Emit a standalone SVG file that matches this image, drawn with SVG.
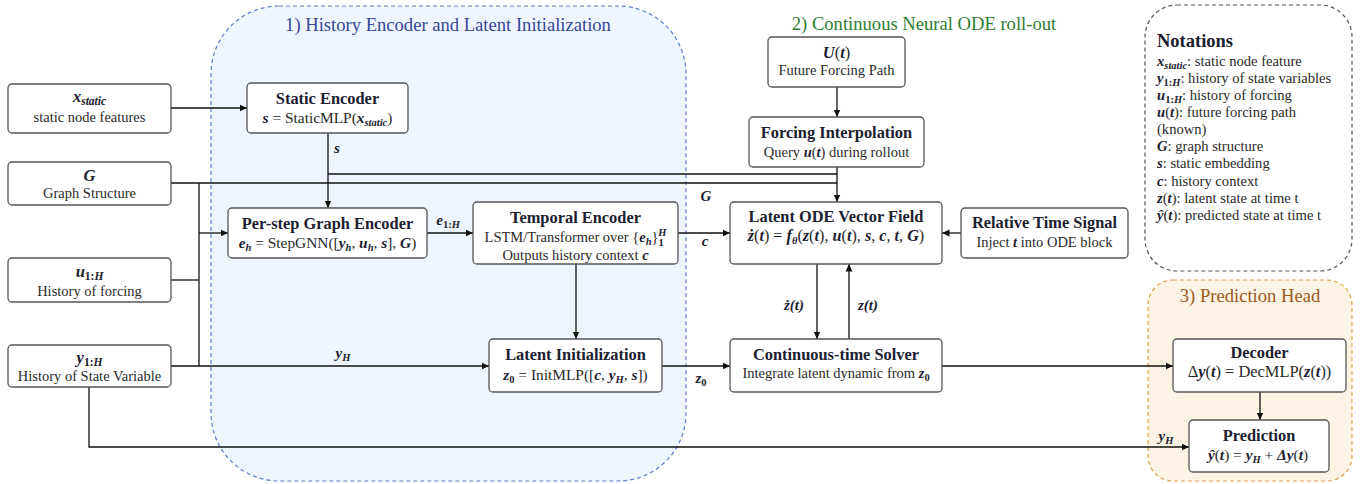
<svg xmlns="http://www.w3.org/2000/svg" width="1369" height="484" viewBox="0 0 1369 484" font-family="'Liberation Serif', 'Times New Roman', serif">
<defs>
<marker id="ah" markerWidth="9" markerHeight="9" refX="7.5" refY="4" orient="auto" markerUnits="userSpaceOnUse"><path d="M0,0.6 L7.5,4 L0,7.4 z" fill="#111"/></marker>
<style>
text{font-family:"Liberation Serif","Times New Roman",serif;}
.t{font-size:16.4px;font-weight:bold;fill:#1c2130;text-anchor:middle;}
.b{font-size:14.5px;fill:#2a2a2a;text-anchor:middle;}
.f{font-size:15.4px;}
.v{font-size:16.5px;}
.m{font-weight:bold;font-style:italic;fill:#1c2130;}
.u{font-style:normal;}
.s{font-size:10.5px;}
.v .s{font-size:11.5px;}
.lbl{font-size:15px;font-weight:bold;font-style:italic;fill:#1c2130;text-anchor:middle;}
.rt{font-size:18.6px;text-anchor:middle;}
.node rect{fill:#fff;stroke:#555;stroke-width:1.3;}
.conn path{fill:none;stroke:#111;stroke-width:1.3;}
.arr{marker-end:url(#ah);}
.nt{font-size:14.6px;fill:#2a2a2a;text-anchor:start;}
</style>
</defs>
<rect width="1369" height="484" fill="#fff"/>

<g id="region-history">
<rect x="211" y="6" width="475" height="475" rx="68" fill="#eff5fe" stroke="#5b7fd1" stroke-width="1.2" stroke-dasharray="4 3"/>
<text class="rt" x="448" y="31" fill="#34489a">1) History Encoder and Latent Initialization</text>
</g>
<g id="region-ode">
<text class="rt" x="924" y="30" fill="#2e7d32">2) Continuous Neural ODE roll-out</text>
</g>
<g id="region-prediction">
<rect x="1148" y="280" width="204" height="201" rx="25" fill="#fdf3e4" stroke="#e2a24a" stroke-width="1.2" stroke-dasharray="4 3"/>
<text class="rt" x="1250" y="302" fill="#9c5a1e">3) Prediction Head</text>
</g>

<g id="connectors" class="conn">
<path class="arr" d="M171,108 H247"/>
<path d="M171,183 H837"/>
<path d="M328,174 H837"/>
<path class="arr" d="M328,133 V208"/>
<path d="M199,183 V366"/>
<path class="arr" d="M199,233 H228"/>
<path d="M171,280 H199"/>
<path class="arr" d="M171,366 H489"/>
<path class="arr" d="M89,387 V447 H1189"/>
<path class="arr" d="M427,233 H473"/>
<path class="arr" d="M678,233 H730"/>
<path class="arr" d="M576,264 V339"/>
<path class="arr" d="M662,366 H730"/>
<path class="arr" d="M837,87 V117"/>
<path class="arr" d="M837,167 V202"/>
<path class="arr" d="M961,233 H942"/>
<path class="arr" d="M817,264 V339"/>
<path class="arr" d="M849,339 V264"/>
<path class="arr" d="M942,366 H1173"/>
<path class="arr" d="M1260,392 V420"/>
<text class="lbl" x="337" y="153">s</text>
<text class="lbl" x="706" y="201">G</text>
<text class="lbl" x="448" y="225">e<tspan class="s" dy="3"><tspan class="u">1:</tspan>H</tspan></text>
<text class="lbl" x="705" y="246">c</text>
<text class="lbl" x="343" y="358">y<tspan class="s" dy="3">H</tspan></text>
<text class="lbl" x="701" y="383">z<tspan class="s u" dy="3">0</tspan></text>
<text class="lbl" x="794" y="310">ż(t)</text>
<text class="lbl" x="868" y="310">z(t)</text>
<text class="lbl" x="1166" y="441">y<tspan class="s" dy="3">H</tspan></text>
</g>

<g id="node-xstatic" class="node">
<rect x="8" y="84" width="163" height="49" rx="4"/>
<text class="b v" x="89.5" y="102"><tspan class="m">x<tspan class="s" dy="2.5">static</tspan></tspan></text>
<text class="b" x="89.5" y="122">static node features</text>
</g>
<g id="node-graph" class="node">
<rect x="8" y="162" width="163" height="43" rx="4"/>
<text class="b v" x="89.5" y="181"><tspan class="m">G</tspan></text>
<text class="b" x="89.5" y="198">Graph Structure</text>
</g>
<g id="node-uhist" class="node">
<rect x="8" y="258" width="163" height="44" rx="4"/>
<text class="b v" x="89.5" y="277"><tspan class="m">u<tspan class="s" dy="2.5"><tspan class="u">1:</tspan>H</tspan></tspan></text>
<text class="b" x="89.5" y="296">History of forcing</text>
</g>
<g id="node-yhist" class="node">
<rect x="8" y="345" width="163" height="42" rx="4"/>
<text class="b v" x="89.5" y="363"><tspan class="m">y<tspan class="s" dy="2.5"><tspan class="u">1:</tspan>H</tspan></tspan></text>
<text class="b" x="89.5" y="381">History of State Variable</text>
</g>

<g id="node-static-encoder" class="node">
<rect x="247" y="83" width="161" height="50" rx="4"/>
<text class="t" x="327.5" y="104">Static Encoder</text>
<text class="b f" x="327.5" y="123"><tspan class="m">s</tspan> =  StaticMLP(<tspan class="m">x<tspan class="s" dy="3">static</tspan></tspan><tspan dy="-3">)</tspan></text>
</g>
<g id="node-perstep" class="node">
<rect x="228" y="208" width="199" height="50" rx="4"/>
<text class="t" x="327.5" y="229">Per-step Graph Encoder</text>
<text class="b f" x="327.5" y="248"><tspan class="m">e<tspan class="s" dy="3">h</tspan></tspan><tspan dy="-3"> =  StepGNN([</tspan><tspan class="m">y<tspan class="s" dy="3">h</tspan></tspan><tspan dy="-3">, </tspan><tspan class="m">u<tspan class="s" dy="3">h</tspan></tspan><tspan dy="-3">, </tspan><tspan class="m">s</tspan>], <tspan class="m">G</tspan>)</text>
</g>
<g id="node-temporal" class="node">
<rect x="473" y="202" width="205" height="62" rx="4"/>
<text class="t" x="575.5" y="223">Temporal Encoder</text>
<text class="b" x="575.5" y="242">LSTM/Transformer over {<tspan class="m">e<tspan class="s" dy="3">h</tspan></tspan><tspan dy="-3">}</tspan><tspan class="m u s" dy="4">1</tspan><tspan class="m s" dx="-5.5" dy="-10">H</tspan></text>
<text class="b" x="575.5" y="260">Outputs history context <tspan class="m">c</tspan></text>
</g>
<g id="node-latent-init" class="node">
<rect x="489" y="339" width="173" height="53" rx="4"/>
<text class="t" x="575.5" y="360">Latent Initialization</text>
<text class="b f" x="575.5" y="380"><tspan class="m">z<tspan class="s u" dy="3">0</tspan></tspan><tspan dy="-3"> = InitMLP([</tspan><tspan class="m">c</tspan>, <tspan class="m">y<tspan class="s" dy="3">H</tspan></tspan><tspan dy="-3">, </tspan><tspan class="m">s</tspan>])</text>
</g>

<g id="node-future-forcing" class="node">
<rect x="768" y="37" width="137" height="50" rx="4"/>
<text class="b v" x="836.5" y="58"><tspan class="m">U</tspan>(<tspan class="m">t</tspan>)</text>
<text class="b" x="836.5" y="75">Future Forcing Path</text>
</g>
<g id="node-forcing-interp" class="node">
<rect x="749" y="117" width="175" height="50" rx="4"/>
<text class="t" x="836.5" y="138">Forcing Interpolation</text>
<text class="b" x="836.5" y="157">Query <tspan class="m">u</tspan>(<tspan class="m">t</tspan>) during rollout</text>
</g>
<g id="node-ode-field" class="node">
<rect x="730" y="202" width="212" height="62" rx="4"/>
<text class="t" x="836" y="222">Latent ODE Vector Field</text>
<text class="b" x="836" y="241" style="font-size:16.2px"><tspan class="m">ż</tspan>(<tspan class="m">t</tspan>) = <tspan class="m">f<tspan class="s" dy="3">θ</tspan></tspan><tspan dy="-3">(</tspan><tspan class="m">z</tspan>(<tspan class="m">t</tspan>), <tspan class="m">u</tspan>(<tspan class="m">t</tspan>), <tspan class="m">s</tspan>, <tspan class="m">c</tspan>, <tspan class="m">t</tspan>, <tspan class="m">G</tspan>)</text>
</g>
<g id="node-time-signal" class="node">
<rect x="961" y="208" width="167" height="50" rx="4"/>
<text class="t" x="1044.5" y="228">Relative Time Signal</text>
<text class="b" x="1044.5" y="247">Inject <tspan class="m">t</tspan> into ODE block</text>
</g>
<g id="node-solver" class="node">
<rect x="730" y="339" width="212" height="53" rx="4"/>
<text class="t" x="836" y="360">Continuous-time Solver</text>
<text class="b" x="836" y="378">Integrate latent dynamic from <tspan class="m">z<tspan class="s u" dy="3">0</tspan></tspan></text>
</g>

<g id="node-decoder" class="node">
<rect x="1173" y="339" width="173" height="53" rx="4"/>
<text class="t" x="1259.5" y="358">Decoder</text>
<text class="b" x="1259.5" y="377" style="font-size:16.4px">Δ<tspan class="m">y</tspan>(<tspan class="m">t</tspan>) = DecMLP(<tspan class="m">z</tspan>(<tspan class="m">t</tspan>))</text>
</g>
<g id="node-prediction" class="node">
<rect x="1189" y="420" width="140" height="52" rx="4"/>
<text class="t" x="1259" y="441">Prediction</text>
<text class="b f" x="1258" y="460"><tspan class="m">ŷ</tspan>(<tspan class="m">t</tspan>) = <tspan class="m">y<tspan class="s" dy="3">H</tspan></tspan><tspan dy="-3"> + </tspan><tspan class="m">Δy</tspan>(<tspan class="m">t</tspan>)</text>
</g>

<g id="notations">
<rect x="1145" y="5" width="207" height="266" rx="32" fill="#fff" stroke="#555" stroke-width="1.2" stroke-dasharray="4 3"/>
<text x="1157" y="47" style="font-size:18.5px;font-weight:bold;fill:#1c2130">Notations</text>
<text class="nt" x="1157" y="66"><tspan class="m">x<tspan class="s" dy="3">static</tspan></tspan><tspan dy="-3">: static node feature</tspan></text>
<text class="nt" x="1157" y="83"><tspan class="m">y<tspan class="s" dy="3"><tspan class="u">1:</tspan>H</tspan></tspan><tspan dy="-3">: history of state variables</tspan></text>
<text class="nt" x="1157" y="100"><tspan class="m">u<tspan class="s" dy="3"><tspan class="u">1:</tspan>H</tspan></tspan><tspan dy="-3">: history of forcing</tspan></text>
<text class="nt" x="1157" y="117"><tspan class="m">u</tspan>(<tspan class="m">t</tspan>): future forcing path</text>
<text class="nt" x="1157" y="134">(known)</text>
<text class="nt" x="1157" y="151"><tspan class="m">G</tspan>: graph structure</text>
<text class="nt" x="1157" y="168"><tspan class="m">s</tspan>: static embedding</text>
<text class="nt" x="1157" y="186"><tspan class="m">c</tspan>: history context</text>
<text class="nt" x="1157" y="203"><tspan class="m">z</tspan>(<tspan class="m">t</tspan>): latent state at time t</text>
<text class="nt" x="1157" y="220"><tspan class="m">ŷ</tspan>(<tspan class="m">t</tspan>): predicted state at time t</text>
</g>
</svg>
